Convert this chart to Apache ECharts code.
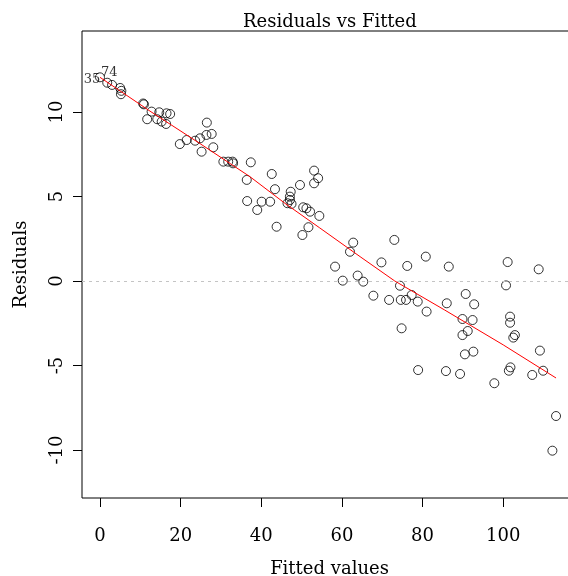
<!DOCTYPE html>
<html>
<head>
<meta charset="utf-8">
<script src="https://cdn.jsdelivr.net/npm/echarts@6/dist/echarts.min.js"></script>
<style>
  html, body { margin: 0; padding: 0; background: #fff; }
  #chart { width: 568px; height: 576px; }
</style>
</head>
<body>
<div id="chart"></div>
<script>
// Fitted values and residuals of the linear model, one entry per observation
const fitted = [
  0.0, 1.8, 3.0, 5.0, 5.3, 5.2, 10.7, 10.9, 12.8, 14.7,
  16.5, 17.4, 11.7, 14.2, 15.3, 16.4, 26.5, 19.8, 21.5, 23.6,
  24.8, 26.4, 27.7, 25.2, 28.1, 30.6, 31.8, 32.9, 33.0, 37.4,
  36.4, 42.6, 43.4, 36.5, 40.1, 42.2, 39.0, 43.8, 47.3, 47.1,
  46.5, 47.5, 47.1, 49.6, 53.1, 54.1, 53.1, 50.4, 51.2, 52.1,
  54.4, 51.7, 50.2, 62.8, 62.0, 73.0, 58.3, 60.2, 63.9, 65.3,
  69.8, 67.8, 76.2, 80.8, 86.5, 74.4, 71.7, 74.6, 75.9, 77.3,
  78.8, 81.0, 74.8, 86.0, 90.7, 92.8, 89.9, 92.4, 91.2, 89.9,
  90.5, 92.6, 78.9, 85.8, 89.3, 97.8, 101.1, 100.7, 108.8, 101.7,
  101.7, 102.9, 102.5, 109.1, 101.8, 101.4, 107.2, 109.9, 113.1, 112.2
];
const residuals = [
  12.05, 11.73, 11.6, 11.42, 11.25, 11.05, 10.5, 10.45, 10.02, 9.98,
  9.92, 9.88, 9.57, 9.57, 9.43, 9.29, 9.37, 8.1, 8.34, 8.3,
  8.44, 8.64, 8.7, 7.65, 7.91, 7.06, 7.06, 7.06, 6.96, 7.02,
  5.98, 6.33, 5.43, 4.73, 4.69, 4.69, 4.2, 3.21, 5.28, 4.99,
  4.6, 4.56, 4.79, 5.68, 6.53, 6.08, 5.78, 4.36, 4.3, 4.1,
  3.85, 3.18, 2.72, 2.27, 1.73, 2.43, 0.85, 0.02, 0.32, -0.04,
  1.1, -0.87, 0.89, 1.44, 0.85, -0.28, -1.12, -1.12, -1.12, -0.83,
  -1.22, -1.81, -2.8, -1.32, -0.77, -1.38, -2.25, -2.31, -2.96, -3.2,
  -4.34, -4.18, -5.27, -5.33, -5.5, -6.05, 1.12, -0.26, 0.69, -2.11,
  -2.47, -3.2, -3.35, -4.12, -5.11, -5.31, -5.56, -5.31, -7.99, -10.04
];

// Smoothed trend of residuals against fitted values
const smoothX = [0.0, 12.4, 24.8, 37.2, 45.9, 54.5, 64.5, 73.1, 85.5, 100.0, 113.1];
const smoothY = [12.05, 10.05, 8.13, 6.17, 4.59, 3.14, 1.44, 0.0, -1.72, -3.78, -5.74];

// Identified observations (index into the arrays above) and their labels
const idIndex = [0, 1];
const idText = ['35', '74'];

// Tick positions
const xTicks = [0, 20, 40, 60, 80, 100];
const yTicks = [-10, -5, 0, 5, 10];

const FONT = 'DejaVu Serif';
const idOffsets = [[-8, 2], [2, -10]];

const points = fitted.map((x, i) => {
  const item = { value: [x, residuals[i]] };
  const k = idIndex.indexOf(i);
  if (k >= 0) {
    item.label = {
      show: true,
      formatter: idText[k],
      position: 'inside',
      offset: idOffsets[k],
      fontFamily: FONT,
      fontSize: 13,
      color: '#000'
    };
  }
  return item;
});
const smoothLine = smoothX.map((x, i) => [x, smoothY[i]]);

const chart = echarts.init(document.getElementById('chart'), null, { renderer: 'canvas' });
chart.setOption({
  animation: false,
  backgroundColor: '#fff',
  title: {
    text: 'Residuals vs Fitted',
    left: 238,
    top: 8,
    textStyle: { fontFamily: FONT, fontSize: 18, fontWeight: 'normal', color: '#000' }
  },
  grid: {
    show: true,
    left: 82,
    top: 31,
    width: 495,
    height: 467,
    borderColor: '#000',
    borderWidth: 1,
    backgroundColor: 'transparent',
    containLabel: false,
    outerBoundsMode: 'none'
  },
  xAxis: {
    type: 'value',
    min: -4.46,
    max: 118.3,
    axisLine: { show: false, onZero: false },
    splitLine: { show: false },
    axisTick: { show: true, length: 9, customValues: xTicks, lineStyle: { color: '#000', width: 1 } },
    axisLabel: { customValues: xTicks, margin: 29, fontFamily: FONT, fontSize: 18, color: '#000' },
    name: 'Fitted values',
    nameLocation: 'middle',
    nameGap: 62,
    nameTextStyle: { fontFamily: FONT, fontSize: 18, color: '#000' }
  },
  yAxis: {
    type: 'value',
    min: -12.84,
    max: 14.79,
    axisLine: { show: false, onZero: false },
    splitLine: { show: false },
    axisTick: { show: true, length: 9, customValues: yTicks, lineStyle: { color: '#000', width: 1 } },
    axisLabel: { customValues: yTicks, rotate: 90, margin: 16, fontFamily: FONT, fontSize: 18, color: '#000' },
    name: 'Residuals',
    nameLocation: 'middle',
    nameRotate: 90,
    nameGap: 52,
    nameTextStyle: { fontFamily: FONT, fontSize: 18, color: '#000' }
  },
  series: [
    {
      type: 'scatter',
      data: points,
      symbol: 'circle',
      symbolSize: 9,
      itemStyle: { color: 'rgba(0,0,0,0)', borderColor: '#000', borderWidth: 1 },
      emphasis: { disabled: true },
      silent: true,
      z: 2,
      markLine: {
        silent: true,
        symbol: ['none', 'none'],
        label: { show: false },
        lineStyle: { color: '#c4c4c4', type: [3, 4], width: 1 },
        data: [{ yAxis: 0 }]
      }
    },
    {
      type: 'line',
      data: smoothLine,
      showSymbol: false,
      smooth: false,
      lineStyle: { color: '#ff0000', width: 1 },
      silent: true,
      z: 3
    }
  ]
});
</script>
</body>
</html>
